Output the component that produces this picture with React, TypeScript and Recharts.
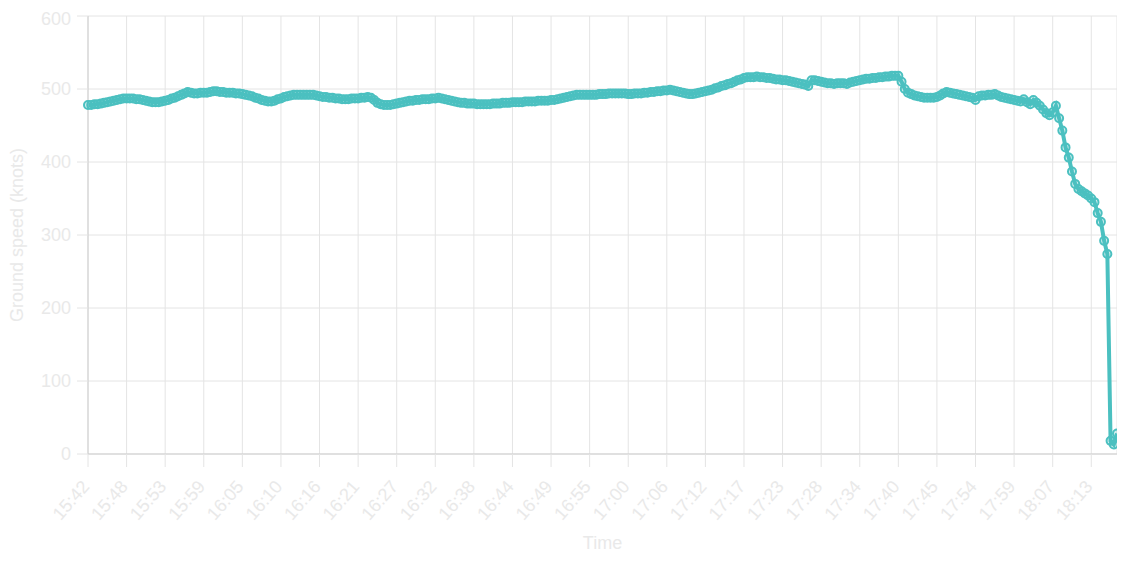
import { LineChart, Line, XAxis, YAxis, CartesianGrid } from 'recharts'

// tick labels shown on the time axis, one every TICK_STEP samples
const tickLabels = [
  '15:42', '15:48', '15:53', '15:59', '16:05', '16:10', '16:16', '16:21', '16:27',
  '16:32', '16:38', '16:44', '16:49', '16:55', '17:00', '17:06', '17:12', '17:17',
  '17:23', '17:28', '17:34', '17:40', '17:45', '17:54', '17:59', '18:07', '18:13',
]
const TICK_STEP = 12

// ground speed in knots, one row per tick interval
const groundSpeed = [
  478, 478, 479, 479, 480, 481, 482, 483, 484, 485, 486, 487, // 15:42
  487, 487, 487, 486, 486, 485, 484, 483, 482, 482, 482, 483, // 15:48
  484, 485, 487, 488, 490, 492, 494, 496, 495, 494, 494, 495, // 15:53
  495, 495, 496, 497, 497, 496, 496, 495, 495, 495, 494, 494, // 15:59
  493, 492, 491, 490, 488, 487, 485, 484, 483, 483, 484, 486, // 16:05
  487, 489, 490, 491, 492, 492, 492, 492, 492, 492, 492, 491, // 16:10
  490, 489, 489, 488, 488, 487, 487, 486, 486, 486, 487, 487, // 16:16
  487, 488, 488, 489, 488, 485, 481, 479, 478, 478, 478, 479, // 16:21
  480, 481, 482, 483, 484, 484, 485, 485, 486, 486, 486, 487, // 16:27
  487, 488, 487, 486, 485, 484, 483, 482, 481, 481, 480, 480, // 16:32
  480, 479, 479, 479, 479, 479, 480, 480, 480, 481, 481, 481, // 16:38
  482, 482, 482, 482, 483, 483, 483, 483, 484, 484, 484, 484, // 16:44
  485, 485, 486, 487, 488, 489, 490, 491, 492, 492, 492, 492, // 16:49
  492, 492, 492, 493, 493, 493, 494, 494, 494, 494, 494, 494, // 16:55
  493, 493, 494, 494, 494, 495, 495, 496, 496, 497, 497, 498, // 17:00
  498, 499, 498, 497, 496, 495, 494, 493, 493, 494, 495, 496, // 17:06
  497, 498, 499, 501, 502, 504, 505, 507, 508, 510, 512, 513, // 17:12
  515, 516, 516, 516, 517, 516, 516, 515, 515, 514, 513, 513, // 17:17
  512, 512, 511, 510, 509, 508, 507, 506, 504, 512, 512, 511, // 17:23
  510, 509, 508, 508, 507, 508, 508, 508, 507, 509, 510, 511, // 17:28
  512, 513, 514, 514, 515, 515, 516, 516, 517, 517, 518, 518, // 17:34
  518, 510, 500, 495, 493, 491, 490, 489, 488, 488, 488, 488, // 17:40
  489, 491, 494, 496, 495, 494, 493, 492, 491, 490, 489, 488, // 17:45
  485, 490, 491, 491, 492, 492, 493, 491, 489, 488, 487, 486, // 17:54
  485, 484, 483, 486, 482, 479, 485, 481, 477, 472, 467, 464, // 17:59
  468, 477, 460, 443, 420, 406, 387, 370, 363, 360, 357, 354, // 18:07
  350, 345, 330, 318, 292, 274, 18, 13, 28, // 18:13
]

const yTicks = [0, 100, 200, 300, 400, 500, 600]

const data = groundSpeed.map((speed, i) => ({ i, speed }))
const xTicks = tickLabels.map((_, k) => k * TICK_STEP)

const TEXT = '#e9e9e9'
const GRID = '#e4e4e4'
const AXIS = '#cfcfcf'
const TEAL = 'rgb(75, 192, 192)'

function XTick({ x, y, payload }: any) {
  const label = tickLabels[Math.round(payload.value / TICK_STEP)]
  return (
    <g transform={`translate(${x - 2.5},${y})`}>
      <text textAnchor="end" transform="rotate(-49)" dy="0.35em" fill={TEXT} fontSize={18}>
        {label}
      </text>
    </g>
  )
}

function YLabel({ viewBox }: any) {
  const cx = viewBox.x + 9
  const cy = viewBox.y + viewBox.height / 2
  return (
    <text
      x={cx}
      y={cy}
      transform={`rotate(-90, ${cx}, ${cy})`}
      textAnchor="middle"
      dominantBaseline="central"
      fill={TEXT}
      fontSize={18}
    >
      Ground speed (knots)
    </text>
  )
}

function XLabel({ viewBox }: any) {
  const cx = viewBox.x + viewBox.width / 2
  const cy = viewBox.y + 89
  return (
    <text x={cx} y={cy} textAnchor="middle" dominantBaseline="central" fill={TEXT} fontSize={18}>
      Time
    </text>
  )
}

export default function App() {
  return (
    <div style={{ fontFamily: "'Liberation Sans', Arial, sans-serif" }}>
      <LineChart
        width={1112}
        height={550}
        data={data}
        margin={{ top: 8, right: 3, left: 0, bottom: 0 }}
        style={{ overflow: 'visible' }}
      >
        <CartesianGrid stroke={GRID} strokeWidth={1} />
        <XAxis
          dataKey="i"
          type="number"
          domain={[0, groundSpeed.length - 1]}
          ticks={xTicks}
          interval={0}
          height={104}
          tickSize={13}
          tickMargin={16}
          tickLine={{ stroke: GRID }}
          axisLine={{ stroke: AXIS }}
          tick={<XTick />}
          label={<XLabel />}
        />
        <YAxis
          dataKey="speed"
          domain={[0, 600]}
          ticks={yTicks}
          width={80}
          tickSize={11}
          tickMargin={6}
          tickLine={{ stroke: GRID }}
          axisLine={{ stroke: AXIS }}
          tick={{ fill: TEXT, fontSize: 18 }}
          label={<YLabel />}
        />
        <Line
          type="linear"
          dataKey="speed"
          stroke={TEAL}
          strokeWidth={4}
          dot={{ r: 4, stroke: TEAL, strokeWidth: 2, fill: 'rgba(75, 192, 192, 0.25)' }}
          activeDot={false}
          isAnimationActive={false}
        />
      </LineChart>
    </div>
  )
}
